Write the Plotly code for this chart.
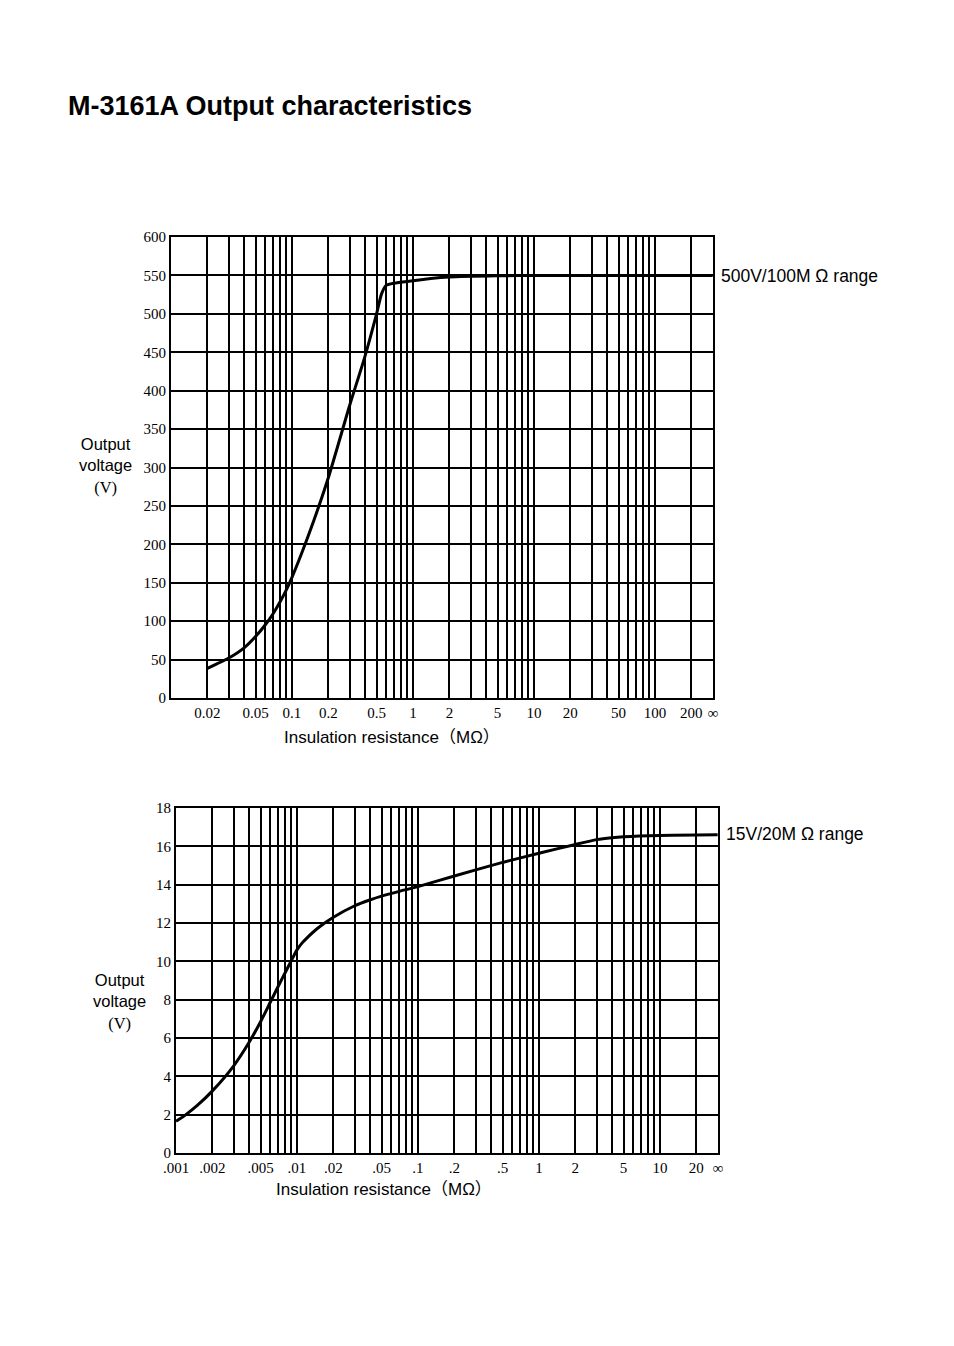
import plotly.graph_objects as go

# ---------------- data ----------------
top_r = [0.02, 0.03, 0.04, 0.05, 0.06, 0.07, 0.08, 0.09, 0.1, 0.12, 0.15, 0.2, 0.3, 0.4, 0.5, 0.55, 0.6, 0.7,
         1, 1.4, 2, 5, 10, 300]
top_v = [38.5, 52, 65, 80, 95, 110, 125.5, 141, 157, 188, 229, 287, 381, 444, 500, 526, 537, 540,
         543, 546, 548, 549.5, 550, 550]

bot_r = [0.001, 0.0012, 0.0015, 0.002, 0.003, 0.004, 0.005, 0.006, 0.007, 0.008, 0.009, 0.01, 0.011, 0.012,
         0.015, 0.02, 0.03, 0.04, 0.05, 0.07, 0.1, 0.2, 0.5, 1, 2, 3, 4, 5, 10, 30]
bot_v = [1.65, 1.99, 2.48, 3.24, 4.55, 5.75, 6.85, 7.85, 8.7, 9.42, 10.05, 10.6, 10.95, 11.2,
         11.75, 12.3, 12.9, 13.2, 13.4, 13.65, 13.9, 14.45, 15.16, 15.64, 16.1, 16.35, 16.45, 16.5, 16.57, 16.6]

top_labels = {0.02: "0.02", 0.05: "0.05", 0.1: "0.1", 0.2: "0.2", 0.5: "0.5", 1: "1", 2: "2", 5: "5",
              10: "10", 20: "20", 50: "50", 100: "100", 200: "200"}
bot_labels = {0.001: ".001", 0.002: ".002", 0.005: ".005", 0.01: ".01", 0.02: ".02", 0.05: ".05",
              0.1: ".1", 0.2: ".2", 0.5: ".5", 1: "1", 2: "2", 5: "5", 10: "10", 20: "20"}

top_range = [-2.0, 2.48]
bot_range = [-3.0, 1.48]
top_edge = 10 ** top_range[1]
bot_edge = 10 ** bot_range[1]


def grid_vals(start_exp, end_exp, extra):
    vals = []
    for e in range(start_exp, end_exp):
        for m in range(1, 10):
            vals.append(round(m * 10 ** e, 6))
    vals.append(round(10 ** end_exp, 6))
    vals += extra
    return vals


top_grid = grid_vals(-2, 2, [200]) + [top_edge]
bot_grid = grid_vals(-3, 1, [20]) + [bot_edge]


def texts(vals, labels, edge):
    out = []
    for v in vals:
        if v == edge:
            out.append("∞")
        else:
            key = None
            for k in labels:
                if abs(k - v) < 1e-9:
                    key = k
            out.append(labels[key] if key is not None else "")
    return out


# page body has an 8px margin, so the figure is offset by 8px
OFF = 8
W, H = 954 - OFF, 1346 - OFF
fig = go.Figure()

line_style = dict(color="black", width=3, shape="spline", smoothing=0.6)
fig.add_trace(go.Scatter(x=top_r, y=top_v, mode="lines", line=line_style,
                         xaxis="x", yaxis="y", showlegend=False, hoverinfo="skip"))
fig.add_trace(go.Scatter(x=bot_r, y=bot_v, mode="lines", line=line_style,
                         xaxis="x2", yaxis="y2", showlegend=False, hoverinfo="skip"))

tick_font = dict(family="Liberation Serif, DejaVu Serif, serif", size=15, color="black")
sans = "Liberation Sans, Arial, sans-serif"


def px_x(p):
    return (p - OFF) / W


def px_y(p):
    return 1 - (p - OFF) / H


axis_common = dict(showgrid=True, gridcolor="black", gridwidth=1.5, showline=True, linecolor="black",
                   linewidth=1.8, mirror=True, zeroline=False, ticks="", tickfont=tick_font,
                   automargin=False)

fig.update_layout(
    template="none",
    width=W, height=H, margin=dict(l=0, r=0, t=0, b=0, pad=0, autoexpand=False),
    paper_bgcolor="white", plot_bgcolor="white",
    xaxis=dict(type="log", range=top_range, domain=[px_x(171), px_x(713)], anchor="y",
               tickmode="array", tickvals=top_grid, ticktext=texts(top_grid, top_labels, top_edge),
               **axis_common),
    yaxis=dict(range=[0, 600], domain=[px_y(698), px_y(237)], anchor="x",
               tickmode="array", tickvals=list(range(0, 601, 50)), **axis_common),
    xaxis2=dict(type="log", range=bot_range, domain=[px_x(176), px_x(718)], anchor="y2",
                tickmode="array", tickvals=bot_grid, ticktext=texts(bot_grid, bot_labels, bot_edge),
                **axis_common),
    yaxis2=dict(range=[0, 18], domain=[px_y(1153), px_y(808)], anchor="x2",
                tickmode="array", tickvals=list(range(0, 19, 2)), **axis_common),
)

ann = []
ann.append(dict(x=px_x(66), y=px_y(106), xref="paper", yref="paper", xanchor="left", yanchor="middle",
                text="<b>M-3161A Output characteristics</b>", showarrow=False,
                font=dict(family=sans, size=27, color="black")))
for (cx, cy) in [(105, 466), (119, 1002)]:
    ann.append(dict(x=px_x(cx), y=px_y(cy), xref="paper", yref="paper", xanchor="center", yanchor="middle",
                    text="Output<br>voltage<br><span style='font-family:Liberation Serif'>(V)</span>",
                    showarrow=False, align="center", font=dict(family=sans, size=16.5, color="black")))
for (cx, cy) in [(392, 738), (384, 1189)]:
    ann.append(dict(x=px_x(cx), y=px_y(cy), xref="paper", yref="paper", xanchor="center", yanchor="middle",
                    text="Insulation resistance（MΩ）", showarrow=False,
                    font=dict(family=sans + ", Noto Sans CJK JP", size=17, color="black")))
ann.append(dict(x=px_x(719), y=px_y(276), xref="paper", yref="paper", xanchor="left", yanchor="middle",
                text="500V/100M Ω range", showarrow=False, font=dict(family=sans, size=17.5, color="black")))
ann.append(dict(x=px_x(724), y=px_y(834), xref="paper", yref="paper", xanchor="left", yanchor="middle",
                text="15V/20M Ω range", showarrow=False, font=dict(family=sans, size=17.5, color="black")))
fig.update_layout(annotations=ann)

fig.write_html("out.html")
